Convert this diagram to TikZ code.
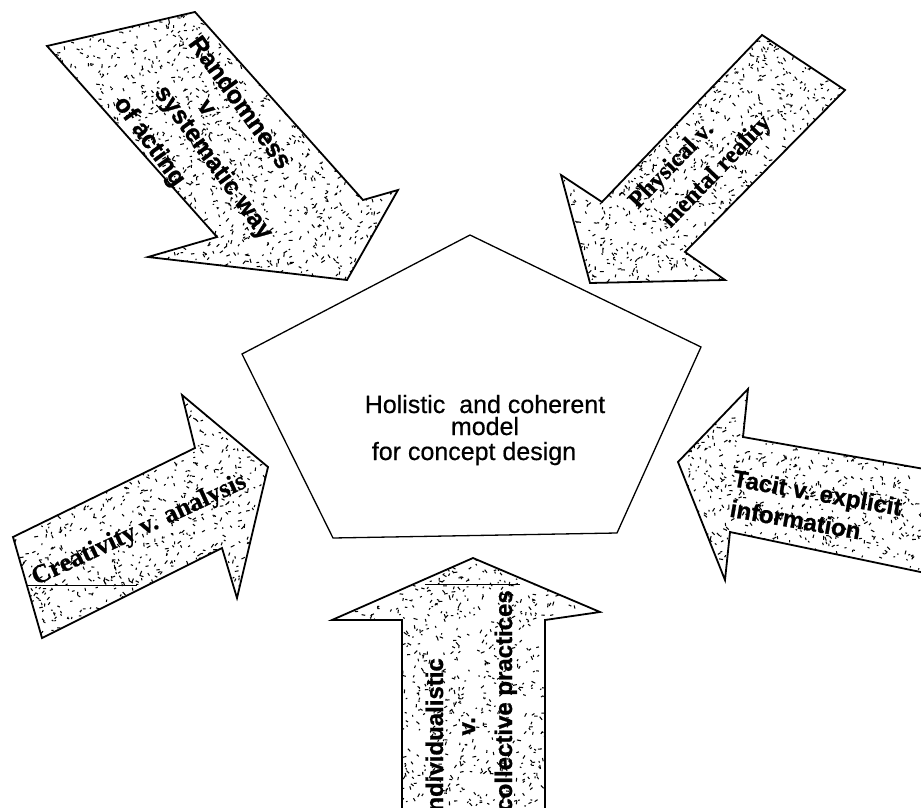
\documentclass[tikz,border=0pt]{standalone}
\usepackage{fontspec}
\setmainfont{Liberation Sans}
\newfontfamily\labelsans{Liberation Sans Bold}[FakeBold=1]
\newfontfamily\labelserif{Liberation Serif Bold}[FakeBold=0.8]
\newfontfamily\corefont{Liberation Sans}[FakeBold=0.5]

% random short strokes inside the current clip: xmin, xmax, ymin, ymax, count
\newcommand\stipple[5]{%
  \foreach \k in {1,...,#5}{%
    \pgfmathsetmacro\gx{#1+rnd*(#2-#1)}%
    \pgfmathsetmacro\gy{#3+rnd*(#4-#3)}%
    \pgfmathsetmacro\ga{180*rnd}%
    \pgfmathsetmacro\gl{1.4+2.8*rnd}%
    \draw[speck] (\gx,\gy) -- ++(\ga:\gl pt);
  }}

\tikzset{
  outline/.style={draw=black, line width=1.8pt, line join=miter},
  pentaline/.style={draw=black, line width=1.3pt, line join=miter},
  speck/.style={line width=1.05pt, line cap=butt, black},
  scanline/.style={line width=0.8pt, black},
  sanslabel/.style={font=\labelsans\fontsize{25}{30}\selectfont, inner sep=0pt},
  smallsans/.style={font=\labelsans\fontsize{24}{30}\selectfont, inner sep=0pt},
  seriflabel/.style={font=\labelserif\fontsize{24.5}{30}\selectfont, inner sep=0pt},
  coretext/.style={font=\corefont\fontsize{25}{30}\selectfont, inner sep=0pt, anchor=base},
}

\begin{document}
\begin{tikzpicture}[x=1pt, y=-1pt]
\pgfmathsetseed{7}
\useasboundingbox (0,0) rectangle (921,808);
\clip (0,0) rectangle (921,808);
\fill[white] (0,0) rectangle (921,808);

% ---- arrow outlines ----
\coordinate (a1) at (195,12);  \coordinate (a2) at (363,200);
\coordinate (a3) at (398,190); \coordinate (a4) at (347,280);
\coordinate (a5) at (148,257); \coordinate (a6) at (217,237);
\coordinate (a7) at (47,46);
\def\arrowA{(a1)--(a2)--(a3)--(a4)--(a5)--(a6)--(a7)--cycle}

\coordinate (b1) at (762,35);  \coordinate (b2) at (845,90);
\coordinate (b3) at (685,252); \coordinate (b4) at (725,280);
\coordinate (b5) at (590,283); \coordinate (b6) at (561,175);
\coordinate (b7) at (602,202);
\def\arrowB{(b1)--(b2)--(b3)--(b4)--(b5)--(b6)--(b7)--cycle}

\coordinate (c1) at (13,537);  \coordinate (c2) at (195,448);
\coordinate (c3) at (182,395); \coordinate (c4) at (268,467);
\coordinate (c5) at (237,598); \coordinate (c6) at (222,548);
\coordinate (c7) at (42,638);
\def\arrowC{(c1)--(c2)--(c3)--(c4)--(c5)--(c6)--(c7)--cycle}

\coordinate (d1) at (678,462); \coordinate (d2) at (748,389);
\coordinate (d3) at (743,437); \coordinate (d4) at (930,470);
\coordinate (d5) at (930,574); \coordinate (d6) at (730,532);
\coordinate (d7) at (725,580);
\def\arrowD{(d1)--(d2)--(d3)--(d4)--(d5)--(d6)--(d7)--cycle}

\coordinate (e1) at (473,558); \coordinate (e2) at (600,612);
\coordinate (e3) at (545,620); \coordinate (e4) at (545,815);
\coordinate (e5) at (402,815); \coordinate (e6) at (402,620);
\coordinate (e7) at (332,620);
\def\arrowE{(e1)--(e2)--(e3)--(e4)--(e5)--(e6)--(e7)--cycle}

% stippled fills
\begin{scope} \clip \arrowA; \stipple{47}{398}{12}{280}{1550} \end{scope}
\begin{scope} \clip \arrowB; \stipple{561}{845}{35}{283}{1200} \end{scope}
\begin{scope} \clip \arrowC; \stipple{13}{268}{395}{638}{1050} \end{scope}
\begin{scope} \clip \arrowD; \stipple{678}{921}{389}{580}{800} \end{scope}
\begin{scope} \clip \arrowE; \stipple{332}{600}{558}{808}{1100} \end{scope}

\draw[outline] \arrowA;
\draw[outline] \arrowB;
\draw[outline] \arrowC;
\draw[outline] \arrowD;
\draw[outline] \arrowE;

% stray rules inside two arrows
\coordinate (sc1) at (27,585);  \coordinate (sc2) at (137,585);
\draw[scanline] (sc1) -- (sc2);
\coordinate (se1) at (425,584); \coordinate (se2) at (520,584);
\draw[scanline] (se1) -- (se2);

% ---- central pentagon ----
\coordinate (p1) at (470,235); \coordinate (p2) at (701,347);
\coordinate (p3) at (617,533); \coordinate (p4) at (333,538);
\coordinate (p5) at (242,354);
\draw[pentaline, fill=white] (p1)--(p2)--(p3)--(p4)--(p5)--cycle;

\node[coretext] (core1) at (485,413) {Holistic\ \ and coherent};
\node[coretext] (core2) at (485,435) {model};
\node[coretext] (core3) at (474,460) {for concept design};

% ---- arrow labels ----
\node[sanslabel, rotate=-54] (ra1) at (241,102) {Randomness};
\node[sanslabel, rotate=-54] (ra2) at (206,108) {v};
\node[sanslabel, rotate=-54] (ra3) at (213,163) {systematic way};
\node[sanslabel, rotate=-54] (ra4) at (149,142) {of acting};

\node[seriflabel, rotate=46] (ph1) at (672,166) {Physical v.};
\node[seriflabel, rotate=46] (ph2) at (717,172) {mental reality};

\node[seriflabel, font=\labelserif\fontsize{26}{30}\selectfont, rotate=25, anchor=base] (cr1) at (142,536) {Creativity v. analysis};

\node[smallsans, rotate=-10, anchor=base] (ta1) at (816,501) {Tacit v. explicit};
\node[smallsans, rotate=-10, anchor=base] (ta2) at (794,528) {information};

\node[smallsans, rotate=90, anchor=base east] (in1) at (443,658) {Individualistic};
\node[smallsans, rotate=90, anchor=base east] (in2) at (475,717) {v.};
\node[smallsans, rotate=90, anchor=base east] (in3) at (512,590) {collective practices};
\end{tikzpicture}
\end{document}
